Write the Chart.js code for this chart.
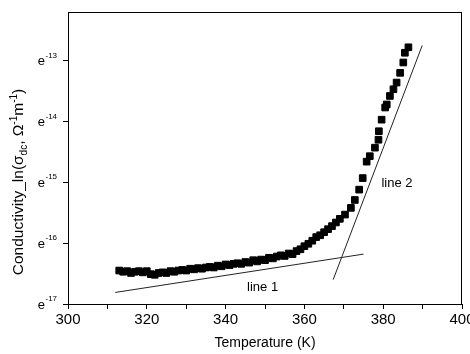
<!DOCTYPE html>
<html>
<head>
<meta charset="utf-8">
<script src="https://cdn.jsdelivr.net/npm/chart.js@4/dist/chart.umd.min.js"></script>
<style>
body { margin: 0; background: #fff; }
</style>
</head>
<body>
<canvas id="myChart" width="470" height="354"></canvas>
<script>
const tempK = [
    313, 314, 315, 316, 317, 318, 319, 320, 321, 322, 323, 324, 325, 326, 327, 328, 329, 330,
    331, 332, 333, 334, 335, 336, 337, 338, 339, 340, 341, 342, 343, 344, 345, 346, 347, 348,
    349, 350, 351, 352, 353, 354, 355, 356, 357, 358, 359, 360, 361, 362, 363, 364, 365, 366,
    367, 368, 369, 370.3, 371.8, 372.8, 373.9, 374.8, 375.8, 376.6, 377.9, 378.8, 378.9, 379.6,
    380.5, 380.9, 381.7, 382.6, 383.4, 384.3, 385.1, 385.5, 386.4,
];
const lnSigma = [
    -16.45, -16.47, -16.46, -16.49, -16.47, -16.46, -16.48, -16.46, -16.51, -16.52, -16.49, -16.48,
    -16.49, -16.46, -16.47, -16.45, -16.44, -16.45, -16.42, -16.43, -16.41, -16.42, -16.4, -16.39,
    -16.4, -16.37, -16.38, -16.35, -16.36, -16.34, -16.33, -16.34, -16.31, -16.32, -16.28, -16.3,
    -16.27, -16.28, -16.24, -16.25, -16.22, -16.2, -16.21, -16.17, -16.18, -16.13, -16.1, -16.05,
    -16.01, -15.96, -15.9, -15.87, -15.82, -15.77, -15.72, -15.66, -15.6, -15.53, -15.42, -15.29,
    -15.12, -14.93, -14.66, -14.57, -14.43, -14.3, -14.16, -13.97, -13.77, -13.72, -13.58, -13.47,
    -13.36, -13.2, -13.03, -12.87, -12.78,
];

// fitted lines
const line1T = [312, 375];
const line1Ln = [-16.81, -16.18];
const line2T = [367.3, 389.9];
const line2Ln = [-16.6, -12.75];

const yTicks = [-17, -16, -15, -14, -13];
const lineNames = ["line 1", "line 2"];
const lineNameT = [349.4, 383.5];
const lineNameLn = [-16.72, -15.02];

const FONT = '"Liberation Sans", Arial, sans-serif';

function toPoints(xs, ys) {
    return xs.map((x, i) => ({ x: x, y: ys[i] }));
}

const textPlugin = {
    id: "textPlugin",
    afterDraw(c) {
        const ctx = c.ctx;
        const a = c.chartArea;
        const sx = c.scales.x;
        const sy = c.scales.y;
        ctx.save();
        // frame
        ctx.strokeStyle = "#000";
        ctx.lineWidth = 1;
        ctx.strokeRect(a.left + 0.5, a.top + 0.5, a.right - a.left - 1, a.bottom - a.top);

        ctx.fillStyle = "#000";
        ctx.textBaseline = "alphabetic";
        // y tick labels e^n
        yTicks.forEach((v) => {
            const py = sy.getPixelForValue(v);
            ctx.font = "13px " + FONT;
            ctx.textAlign = "right";
            ctx.fillText("e", a.left - 23, py + 4.5);
            ctx.font = "8px " + FONT;
            ctx.textAlign = "left";
            ctx.fillText(String(v), a.left - 22.5, py - 3);
        });

        // y axis title
        const parts = [
            ["Conductivity_ln(\u03c3", 15.5, 0],
            ["dc", 10, 4],
            [", \u03a9", 15.5, 0],
            ["-1", 10, -6],
            ["m", 15.5, 0],
            ["-1", 10, -6],
            [")", 15.5, 0],
        ];
        let total = 0;
        parts.forEach((p) => {
            ctx.font = p[1] + "px " + FONT;
            total += ctx.measureText(p[0]).width;
        });
        ctx.save();
        ctx.translate(23, 182);
        ctx.rotate(-Math.PI / 2);
        ctx.textAlign = "left";
        let px = -total / 2;
        parts.forEach((p) => {
            ctx.font = p[1] + "px " + FONT;
            ctx.fillText(p[0], px, p[2]);
            px += ctx.measureText(p[0]).width;
        });
        ctx.restore();

        // line labels
        ctx.font = "13px " + FONT;
        ctx.textAlign = "center";
        ctx.textBaseline = "middle";
        lineNames.forEach((name, i) => {
            ctx.fillText(name, sx.getPixelForValue(lineNameT[i]), sy.getPixelForValue(lineNameLn[i]));
        });
        ctx.restore();
    },
};

const ctx = document.getElementById("myChart");
const chart = new Chart(ctx, {
    type: "scatter",
    data: {
        datasets: [
            {
                label: "data",
                data: toPoints(tempK, lnSigma),
                pointStyle: "rect",
                pointRadius: 4.7,
                borderWidth: 1,
                backgroundColor: "#000",
                borderColor: "#000",
            },
            {
                label: "line 1",
                data: toPoints(line1T, line1Ln),
                showLine: true,
                pointRadius: 0,
                borderWidth: 1,
                borderColor: "#222",
            },
            {
                label: "line 2",
                data: toPoints(line2T, line2Ln),
                showLine: true,
                pointRadius: 0,
                borderWidth: 1,
                borderColor: "#222",
            },
        ],
    },
    options: {
        responsive: false,
        animation: false,
        layout: { padding: { top: 12, right: 8, left: 0, bottom: 0 } },
        plugins: {
            legend: { display: false },
            tooltip: { enabled: false },
        },
        scales: {
            x: {
                type: "linear",
                min: 300,
                max: 400,
                border: { display: false },
                grid: { drawOnChartArea: false, drawTicks: true, tickLength: 5, color: "#000" },
                ticks: {
                    stepSize: 10,
                    autoSkip: false,
                    maxRotation: 0,
                    padding: 2,
                    color: "#000",
                    font: { family: FONT, size: 15 },
                    callback: (v) => (v % 20 === 0 ? v : ""),
                },
                title: {
                    display: true,
                    text: "Temperature (K)",
                    color: "#000",
                    font: { family: FONT, size: 14 },
                    padding: { top: 4, bottom: 2 },
                },
                afterFit: (s) => {
                    s.height = 50;
                    s.paddingLeft = 0;
                    s.paddingRight = 0;
                },
            },
            y: {
                type: "linear",
                min: -17,
                max: -12.2,
                border: { display: false },
                grid: { drawOnChartArea: false, drawTicks: true, tickLength: 5, color: "#000" },
                ticks: { stepSize: 1, includeBounds: false, callback: () => "" },
                afterFit: (s) => {
                    s.width = 68;
                    s.paddingTop = 0;
                    s.paddingBottom = 0;
                },
            },
        },
    },
    plugins: [textPlugin],
});
</script>
</body>
</html>
